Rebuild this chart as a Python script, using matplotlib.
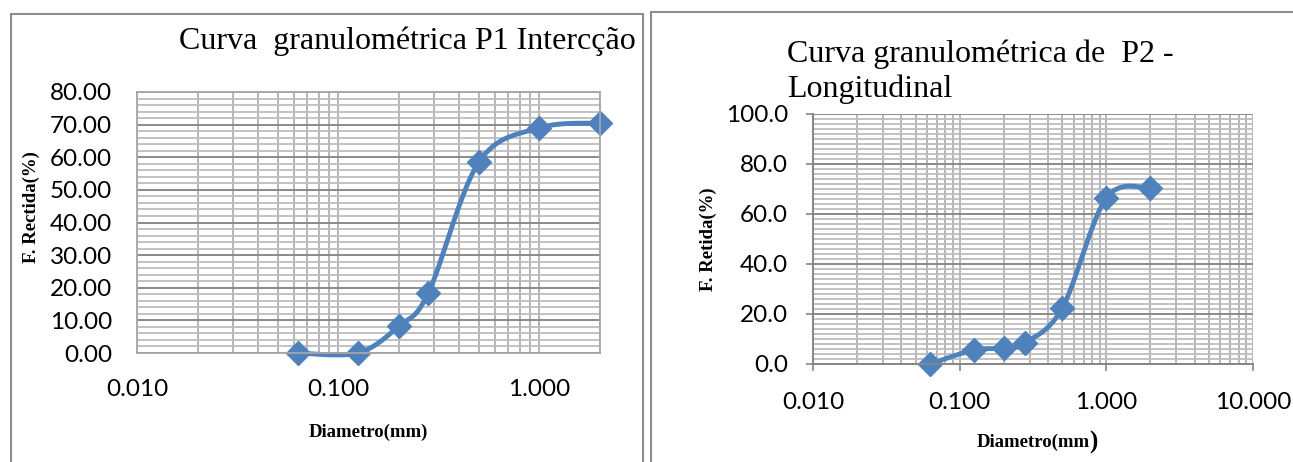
import numpy as np
import matplotlib
matplotlib.use("Agg")
import matplotlib.pyplot as plt
from matplotlib.patches import Rectangle
from matplotlib.ticker import LogLocator, MultipleLocator, FormatStrFormatter, FixedLocator, NullFormatter

# sieve openings (mm) and retained fraction (%)
p1_diam = [0.063, 0.125, 0.2, 0.28, 0.5, 1.0, 2.0]
p1_ret = [0.0, 0.0, 8.2, 18.3, 58.5, 69.0, 70.5]

p2_diam = [0.063, 0.125, 0.2, 0.28, 0.5, 1.0, 2.0]
p2_ret = [0.0, 5.6, 6.3, 8.5, 22.3, 66.4, 70.4]

p1_title = "Curva  granulométrica P1 Intercção"
p2_title = ["Curva granulométrica de  P2 -", "Longitudinal"]
p1_ylabel = "F. Rectida(%)"
p2_ylabel = "F. Retida(%)"
xlabel = "Diametro(mm)"

BLUE = "#4F81BD"
W, H = 1293, 462


def smooth(xs, ys, n=40):
    # Excel-style smoothed line: Bezier through the points, in log-x space
    lx = np.log10(xs)
    y = np.asarray(ys, float)
    P = np.column_stack([lx, y])
    P = np.vstack([P[0], P, P[-1]])
    out = []
    t = np.linspace(0, 1, n)[:, None]
    for i in range(1, len(P) - 2):
        p0, p1, p2, p3 = P[i - 1], P[i], P[i + 1], P[i + 2]
        c1 = p1 + (p2 - p0) / 6
        c2 = p2 - (p3 - p1) / 6
        seg = ((1 - t) ** 3) * p1 + 3 * ((1 - t) ** 2) * t * c1 + 3 * (1 - t) * t ** 2 * c2 + t ** 3 * p2
        out.append(seg)
    out = np.vstack(out)
    return 10 ** out[:, 0], out[:, 1]


def px_axes(fig, x0, y0, x1, y1):
    return fig.add_axes([x0 / W, 1 - y1 / H, (x1 - x0) / W, (y1 - y0) / H])


fig = plt.figure(figsize=(W / 100, H / 100), dpi=100)
fig.patch.set_facecolor("white")

# panel frames
for x0, y0, x1 in [(11, 14, 643), (651, 12, 1300)]:
    fig.patches.append(Rectangle((x0 / W, -0.1), (x1 - x0) / W, 1.1 - y0 / H,
                                 transform=fig.transFigure, fill=False,
                                 edgecolor="#8c8c8c", lw=1.5))

serif = ["Liberation Serif", "DejaVu Serif"]


def style_axes(ax, xmax, ymax, ymajor, yfmt, ticks):
    ax.set_xscale("log")
    ax.set_xlim(0.01, xmax)
    ax.set_ylim(0, ymax)
    ax.xaxis.set_major_locator(FixedLocator([10.0 ** k for k in range(-2, 2) if 10.0 ** k <= xmax]))
    ax.xaxis.set_minor_locator(LogLocator(base=10, subs=np.arange(2, 10)))
    ax.xaxis.set_major_formatter(FormatStrFormatter("%.3f"))
    ax.xaxis.set_minor_formatter(NullFormatter())
    ax.yaxis.set_major_locator(MultipleLocator(ymajor))
    ax.yaxis.set_minor_locator(MultipleLocator(2))
    ax.yaxis.set_major_formatter(FormatStrFormatter(yfmt))
    ax.grid(True, which="major", axis="y", color="#8a8a8a", lw=1.4)
    ax.grid(True, which="minor", axis="y", color="#bdbdbd", lw=1.3)
    ax.grid(True, which="both", axis="x", color="#b0b0b0", lw=1.3)
    ax.set_axisbelow(True)
    for lab in ax.get_xticklabels() + ax.get_yticklabels():
        lab.set_fontfamily("Lato")
        lab.set_fontsize(17.5)
    ax.tick_params(which="minor", length=0)
    if ticks:
        ax.tick_params(which="major", length=5, width=1.2, color="#868686", pad=13)
        ax.tick_params(axis="x", which="major", pad=15)
        for s in ("top", "right"):
            ax.spines[s].set_visible(False)
        for s in ("left", "bottom"):
            ax.spines[s].set_color("#868686")
            ax.spines[s].set_linewidth(1.4)
    else:
        ax.tick_params(which="major", length=0, pad=18)
        ax.tick_params(axis="x", which="major", pad=19)
        for s in ax.spines.values():
            s.set_color("#a6a6a6")
            s.set_linewidth(1.3)


# ---- P1 ----
ax1 = px_axes(fig, 137, 92, 600, 353)
style_axes(ax1, 2.0, 80, 10, "%.2f", ticks=False)
sx, sy = smooth(p1_diam, p1_ret)
ax1.plot(sx, sy, color=BLUE, lw=3.5, clip_on=False, solid_capstyle="round")
ax1.plot(p1_diam, p1_ret, "D", color=BLUE, ms=12, clip_on=False)
fig.text(179 / W, 1 - 49 / H, p1_title, family=serif, size=23, ha="left", va="baseline")
ax1.set_ylabel(p1_ylabel, family=serif, weight="bold", size=13.5)
ax1.yaxis.set_label_coords(-0.21, 0.56)
ax1.set_xlabel(xlabel, family=serif, weight="bold", size=13.5)
ax1.xaxis.set_label_coords(0.5, -0.27)

# ---- P2 ----
ax2 = px_axes(fig, 813, 114, 1253, 364)
style_axes(ax2, 10.0, 100, 20, "%.1f", ticks=True)
sx, sy = smooth(p2_diam, p2_ret)
ax2.plot(sx, sy, color=BLUE, lw=3.5, clip_on=False, solid_capstyle="round")
ax2.plot(p2_diam, p2_ret, "D", color=BLUE, ms=12, clip_on=False)
for line, base in zip(p2_title, [62, 97]):
    fig.text(787 / W, 1 - base / H, line, family=serif, size=23, ha="left", va="baseline")
ax2.set_ylabel(p2_ylabel, family=serif, weight="bold", size=13.5)
ax2.yaxis.set_label_coords(-0.218, 0.5)
xl = ax2.text(0.5, -0.312, "Diametro(mm", transform=ax2.transAxes, family=serif,
              weight="bold", size=13.5, ha="center", va="center")
ax2.annotate(")", xy=(1.0, 0.5), xycoords=xl, family=serif, weight="bold", size=18,
             ha="left", va="center")

fig.savefig("out.png", dpi=100)
